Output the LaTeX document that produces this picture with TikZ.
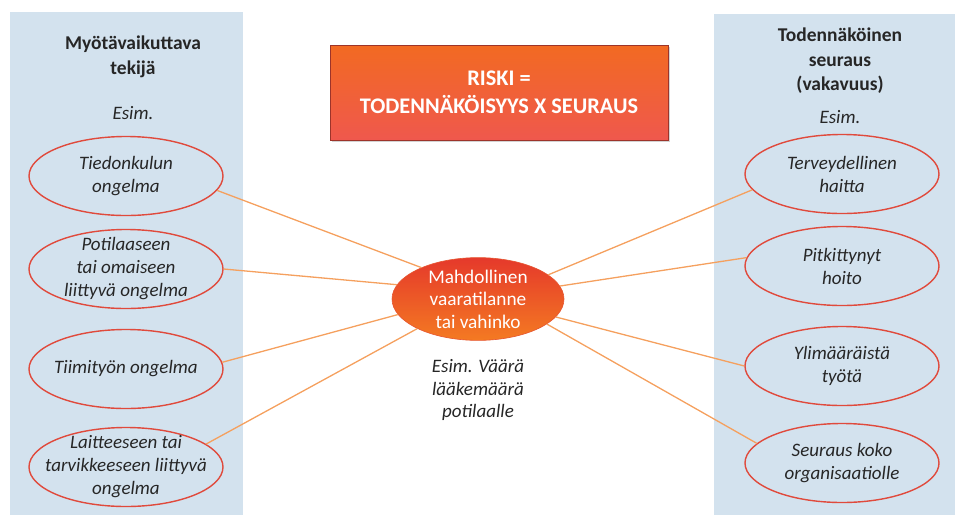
\documentclass[tikz,border=0pt]{standalone}
\usepackage{fontspec}
\setmainfont{Carlito}
\usetikzlibrary{shapes.geometric,shadows}
\definecolor{panel}{HTML}{D3E2EE}
\definecolor{ellred}{HTML}{E04A3C}
\definecolor{conn}{HTML}{F5A05E}
\definecolor{txt}{HTML}{262626}
\definecolor{boxtop}{HTML}{F26A22}
\definecolor{boxbot}{HTML}{EF584D}
\definecolor{ctop}{HTML}{E5392B}
\definecolor{cbot}{HTML}{F47A22}
\begin{document}
\begin{tikzpicture}[x=1pt,y=-1pt,
  panelbox/.style={fill=panel,draw=none},
  factor/.style={ellipse,draw=ellred,line width=1.4pt,minimum width=194pt,minimum height=79pt,inner sep=0pt},
  ftext/.style={align=center,inner sep=0pt,font=\fontsize{19}{23}\selectfont\itshape,text=txt},
  heading/.style={align=center,font=\fontsize{19.5}{24.5}\selectfont\bfseries,text=txt},
  esim/.style={font=\fontsize{19}{23}\selectfont\itshape,text=txt},
  link/.style={draw=conn,line width=1.3pt}
]
\useasboundingbox (0,0) rectangle (961,517);
\fill[panelbox] (10,12) rectangle (243,515);
\fill[panelbox] (714,14) rectangle (955,515);

\node[heading] (lh) at (133,57) {Myötävaikuttava\\tekijä};
\node[esim] (le) at (133,113) {Esim.};
\node[heading] (rh) at (840,61) {Todennäköinen\\seuraus\\(vakavuus)};
\node[esim] (re) at (840,117) {Esim.};

\node[draw=ellred!70!black,line width=0.5pt,top color=boxtop,bottom color=boxbot,
  drop shadow={shadow xshift=2pt,shadow yshift=-2pt,opacity=0.35},
  minimum width=338pt,minimum height=95pt,align=center,text=white,
  font=\fontsize{22.3}{28}\selectfont\bfseries] (risk) at (499,92.5) {RISKI =\\TODENNÄKÖISYYS X SEURAUS};

\node[ellipse,draw=ellred!80!orange,line width=0.6pt,top color=ctop,bottom color=cbot,
  minimum width=172pt,minimum height=82pt,inner sep=0pt,align=center,text=white,
  font=\fontsize{19.3}{22.5}\selectfont] (c) at (478,299) {Mahdollinen\\vaaratilanne\\tai vahinko};
\node[esim,align=center,font=\fontsize{19}{22.5}\selectfont\itshape] (cx) at (478,390) {Esim. Väärä\\lääkemäärä\\potilaalle};

\node[factor] (l1) at (126,176) {};
\node[factor] (l2) at (126,269) {};
\node[factor] (l3) at (126,369) {};
\node[factor] (l4) at (126,467) {};
\node[ftext] (l1t) at (l1) {Tiedonkulun\\ongelma};
\node[ftext] (l2t) at (l2) {Potilaaseen\\tai omaiseen\\liittyvä ongelma};
\node[ftext] (l3t) at (l3) {Tiimityön ongelma};
\node[ftext] (l4t) at (l4) {Laitteeseen tai\\tarvikkeeseen liittyvä\\ongelma};

\node[factor] (r1) at (842,174) {};
\node[factor] (r2) at (842,266) {};
\node[factor] (r3) at (842,366) {};
\node[factor] (r4) at (842,463) {};
\node[ftext] (r1t) at (r1) {Terveydellinen\\haitta};
\node[ftext] (r2t) at (r2) {Pitkittynyt\\hoito};
\node[ftext] (r3t) at (r3) {Ylimääräistä\\työtä};
\node[ftext] (r4t) at (r4) {Seuraus koko\\organisaatiolle};

\draw[link] (l1.-9) -- (c.151);
\draw[link] (l2.0) -- (c.170);
\draw[link] (l3.4) -- (c.191);
\draw[link] (l4.16) -- (c.206);
\draw[link] (c.19) -- (r1.190);
\draw[link] (c.9) -- (r2.175);
\draw[link] (c.-13) -- (r3.180);
\draw[link] (c.-20) -- (r4.167);
\end{tikzpicture}
\end{document}
